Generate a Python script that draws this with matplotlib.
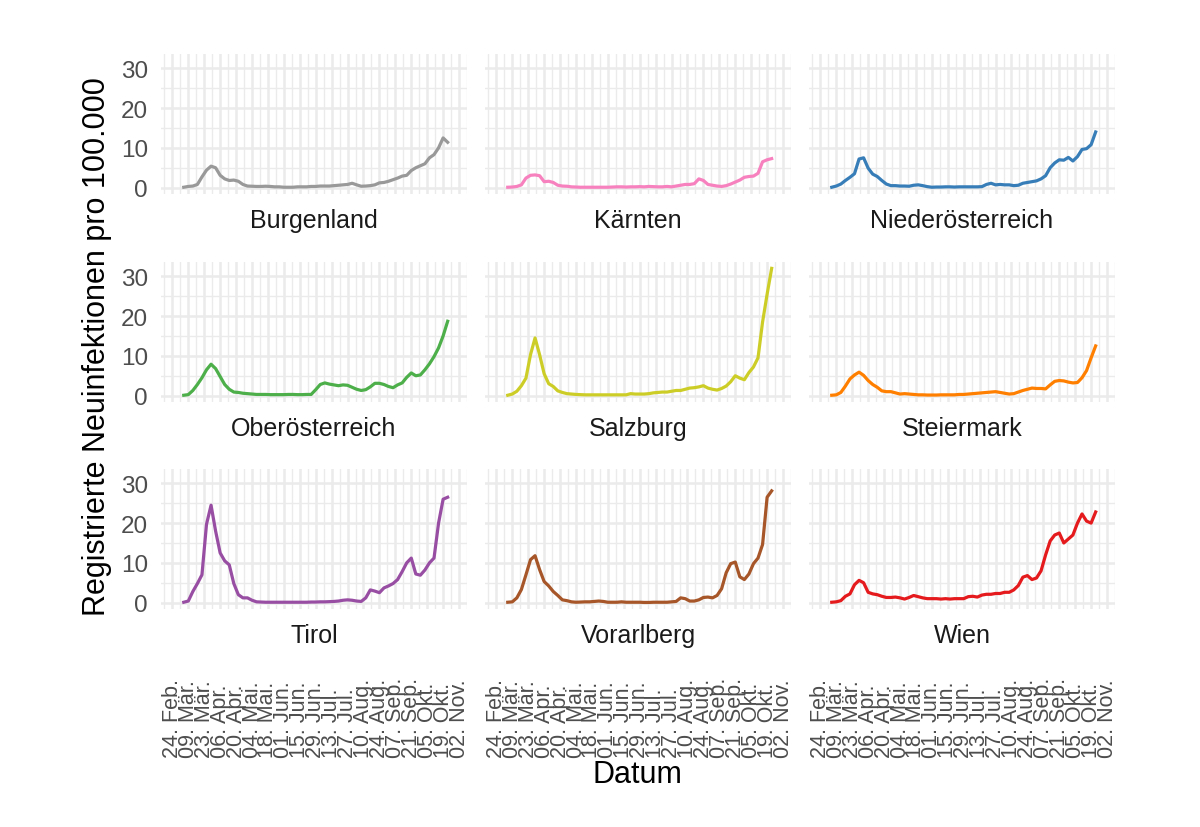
import matplotlib
matplotlib.use("Agg")
import matplotlib.pyplot as plt
import pandas as pd

plt.rcParams["font.family"] = ["Liberation Sans", "DejaVu Sans"]

# 4-tägige Stützstellen, 05.03. bis 23.10.2020
dates = pd.date_range("2020-03-05", "2020-10-23", freq="4D")

burgenland = [0.1, 0.3, 0.4, 0.8, 2.7, 4.4, 5.4, 5.0, 3.1, 2.2, 1.8, 1.9, 1.6, 0.8, 0.4,
              0.35, 0.3, 0.3, 0.35, 0.3, 0.2, 0.2, 0.1, 0.1, 0.1, 0.2, 0.2, 0.2, 0.3, 0.3,
              0.4, 0.4, 0.4, 0.5, 0.6, 0.7, 0.8, 1.1, 0.7, 0.35, 0.4, 0.5, 0.7, 1.2, 1.3,
              1.6, 2.0, 2.4, 2.9, 3.1, 4.3, 5.0, 5.5, 6.0, 7.5, 8.3, 10.0, 12.5, 11.4]
kaernten = [0.1, 0.15, 0.3, 0.7, 2.4, 3.1, 3.2, 3.0, 1.5, 1.6, 1.3, 0.6, 0.4, 0.35, 0.2,
            0.15, 0.1, 0.1, 0.1, 0.1, 0.1, 0.1, 0.1, 0.15, 0.2, 0.2, 0.15, 0.2, 0.2, 0.25,
            0.2, 0.3, 0.25, 0.2, 0.2, 0.3, 0.2, 0.4, 0.6, 0.8, 0.8, 1.0, 2.2, 1.8, 0.8,
            0.6, 0.4, 0.3, 0.5, 0.9, 1.4, 1.9, 2.6, 2.8, 2.9, 3.6, 6.5, 7.0, 7.3]
niederoesterreich = [0.1, 0.4, 0.9, 1.8, 2.6, 3.5, 7.2, 7.5, 4.9, 3.4, 2.8, 1.8, 0.9, 0.5, 0.5,
                     0.4, 0.4, 0.35, 0.6, 0.7, 0.5, 0.25, 0.1, 0.15, 0.15, 0.2, 0.2, 0.15, 0.2, 0.2,
                     0.2, 0.2, 0.2, 0.25, 0.8, 1.1, 0.7, 0.8, 0.7, 0.7, 0.5, 0.6, 1.1, 1.3, 1.5,
                     1.7, 2.2, 3.0, 5.0, 6.2, 7.0, 6.9, 7.6, 6.7, 7.8, 9.6, 9.8, 10.8, 14.0]
oberoesterreich = [0.1, 0.25, 1.3, 2.8, 4.5, 6.5, 7.9, 6.8, 4.8, 2.8, 1.6, 0.9, 0.8, 0.6, 0.5,
                   0.4, 0.3, 0.3, 0.3, 0.25, 0.25, 0.25, 0.25, 0.3, 0.3, 0.25, 0.25, 0.3, 0.3, 1.5,
                   2.8, 3.2, 2.9, 2.7, 2.5, 2.7, 2.6, 2.1, 1.6, 1.3, 1.5, 2.2, 3.1, 3.1, 2.8,
                   2.3, 2.0, 2.7, 3.2, 4.6, 5.7, 5.0, 5.2, 6.5, 8.0, 9.8, 12.0, 15.0, 18.7]
salzburg = [0.1, 0.4, 1.1, 2.5, 4.4, 10.3, 14.5, 10.3, 5.5, 3.0, 2.3, 1.2, 0.8, 0.5, 0.4,
            0.3, 0.25, 0.2, 0.2, 0.2, 0.2, 0.2, 0.2, 0.2, 0.2, 0.2, 0.2, 0.5, 0.4, 0.4,
            0.4, 0.5, 0.7, 0.8, 0.9, 0.9, 1.1, 1.3, 1.3, 1.6, 1.9, 2.0, 2.2, 2.5, 1.9,
            1.6, 1.4, 1.8, 2.4, 3.5, 5.0, 4.4, 4.0, 5.8, 7.2, 9.5, 18.5, 25.5, 32.0]
steiermark = [0.1, 0.2, 0.8, 2.4, 4.2, 5.2, 5.9, 5.1, 3.8, 2.8, 2.1, 1.2, 1.0, 1.0, 0.7,
              0.4, 0.5, 0.4, 0.3, 0.2, 0.2, 0.15, 0.15, 0.15, 0.2, 0.2, 0.2, 0.2, 0.3, 0.3,
              0.4, 0.5, 0.6, 0.7, 0.8, 0.9, 1.0, 0.8, 0.6, 0.4, 0.5, 0.9, 1.3, 1.6, 1.9,
              1.8, 1.8, 1.7, 2.7, 3.6, 3.8, 3.7, 3.4, 3.2, 3.3, 4.5, 6.3, 9.5, 12.5]
tirol = [0.1, 0.4, 2.8, 4.8, 7.0, 19.7, 24.5, 18.0, 12.5, 10.5, 9.5, 4.8, 2.0, 1.2, 1.2,
         0.6, 0.2, 0.15, 0.1, 0.1, 0.1, 0.1, 0.1, 0.1, 0.1, 0.1, 0.1, 0.1, 0.15, 0.15,
         0.2, 0.2, 0.25, 0.3, 0.4, 0.6, 0.7, 0.6, 0.4, 0.3, 1.2, 3.2, 2.9, 2.5, 3.7,
         4.2, 4.8, 5.8, 7.8, 10.0, 11.2, 7.2, 6.9, 8.2, 10.0, 11.2, 20.0, 26.0, 26.5]
vorarlberg = [0.1, 0.2, 1.2, 3.3, 7.0, 10.8, 11.8, 8.3, 5.3, 4.2, 2.8, 1.8, 0.7, 0.5, 0.2,
              0.1, 0.15, 0.2, 0.2, 0.3, 0.4, 0.3, 0.1, 0.1, 0.1, 0.2, 0.1, 0.1, 0.1, 0.1,
              0.05, 0.05, 0.1, 0.1, 0.1, 0.1, 0.2, 0.3, 1.2, 1.0, 0.4, 0.4, 0.7, 1.3, 1.4,
              1.2, 1.8, 3.5, 7.5, 9.8, 10.2, 6.5, 5.8, 7.2, 9.8, 11.2, 14.6, 26.5, 28.1]
wien = [0.1, 0.2, 0.5, 1.6, 2.2, 4.5, 5.6, 5.0, 2.6, 2.2, 2.0, 1.6, 1.3, 1.3, 1.4,
        1.2, 0.9, 1.3, 1.8, 1.5, 1.2, 1.0, 1.0, 1.0, 0.9, 1.0, 0.9, 1.0, 1.0, 1.0,
        1.5, 1.6, 1.4, 1.9, 2.1, 2.1, 2.3, 2.3, 2.6, 2.6, 3.2, 4.3, 6.4, 6.8, 5.8,
        6.2, 8.0, 12.0, 15.5, 17.0, 17.5, 15.0, 16.0, 17.0, 20.0, 22.3, 20.5, 20.0, 22.8]

states = ["Burgenland", "Kärnten", "Niederösterreich",
          "Oberösterreich", "Salzburg", "Steiermark",
          "Tirol", "Vorarlberg", "Wien"]
series = [burgenland, kaernten, niederoesterreich,
          oberoesterreich, salzburg, steiermark,
          tirol, vorarlberg, wien]
colors = ["#999999", "#F781BF", "#377EB8",
          "#4DAF4A", "#CDCD28", "#FF7F00",
          "#984EA3", "#A65628", "#E41A1C"]

tick_dates = pd.date_range("2020-02-24", "2020-11-02", freq="14D")
tick_labels = ["24. Feb.", "09. Mär.", "23. Mär.", "06. Apr.", "20. Apr.",
               "04. Mai.", "18. Mai.", "01. Jun.", "15. Jun.", "29. Jun.",
               "13. Jul.", "27. Jul.", "10. Aug.", "24. Aug.", "07. Sep.",
               "21. Sep.", "05. Okt.", "19. Okt.", "02. Nov."]
minor_dates = pd.date_range("2020-02-17", "2020-11-09", freq="14D")
y_major = [0, 10, 20, 30]
y_minor = [5, 15, 25]

W, H = 1200, 828
fig = plt.figure(figsize=(W / 100, H / 100), dpi=100)

col_left = [161, 485, 809]
row_bottom = [195, 403, 610]
pw, ph = 306, 140

for i, (name, vals, col) in enumerate(zip(states, series, colors)):
    r, c = divmod(i, 3)
    ax = fig.add_axes([col_left[c] / W, 1 - row_bottom[r] / H, pw / W, ph / H])

    ax.plot(dates, vals, color=col, linewidth=2.3, solid_joinstyle="round")

    ax.set_xlim(pd.Timestamp("2020-02-14"), pd.Timestamp("2020-11-04"))
    ax.set_ylim(-1.6, 33.6)

    ax.set_yticks(y_major)
    ax.set_yticks(y_minor, minor=True)
    ax.set_xticks(minor_dates, minor=True)

    ax.grid(which="major", color="#EBEBEB", linewidth=1.8)
    ax.grid(which="minor", color="#EBEBEB", linewidth=1.0)
    ax.set_axisbelow(True)
    for s in ax.spines.values():
        s.set_visible(False)

    ax.tick_params(axis="both", which="both", length=0)
    ax.tick_params(axis="y", pad=9.5, labelsize=17.5, labelcolor="#4D4D4D")
    ax.tick_params(axis="x", pad=106.5, labelsize=15.5, labelcolor="#4D4D4D")

    if r == 2:
        ax.set_xticks(tick_dates, tick_labels)
        plt.setp(ax.get_xticklabels(), rotation=90, va="bottom", ha="center")
    else:
        ax.set_xticks(tick_dates, [""] * len(tick_dates))
    if c != 0:
        ax.set_yticklabels([])

    # Facetten-Beschriftung unter dem Panel
    ax.text(0.5, -0.236, name, transform=ax.transAxes, ha="center",
            va="baseline", fontsize=18, color="#1A1A1A")

fig.text(637 / W, 1 - 775 / H, "Datum", ha="center", va="center", fontsize=22)
fig.text(97 / W, 1 - 347 / H, "Registrierte Neuinfektionen pro 100.000",
         ha="center", va="center", rotation=90, fontsize=22)

fig.savefig("out.png", dpi=100, facecolor="white")
